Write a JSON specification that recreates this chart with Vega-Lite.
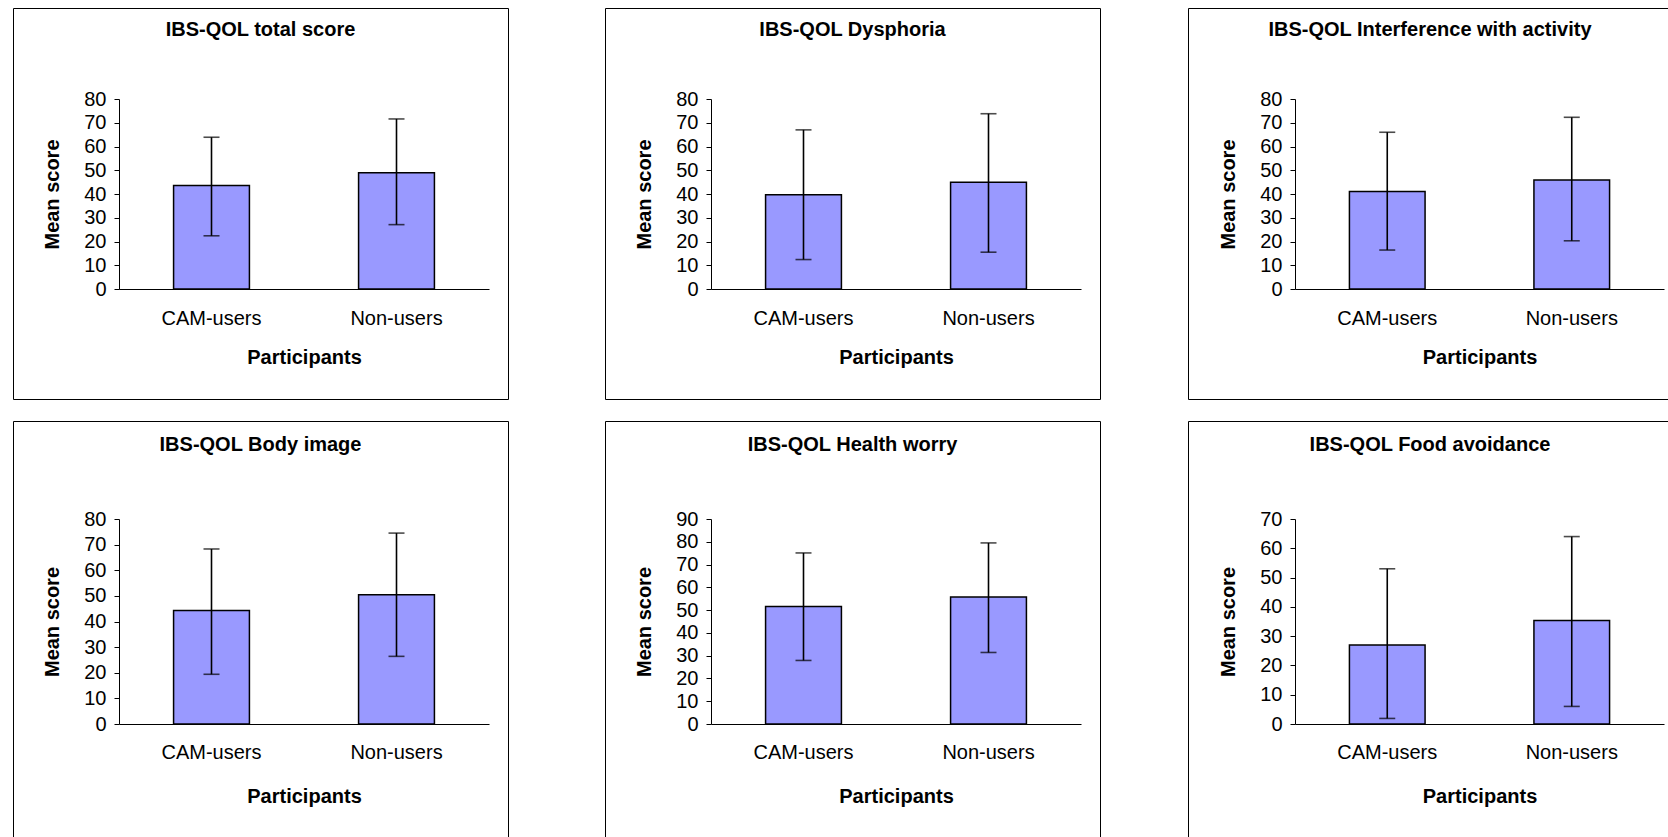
{
  "$schema": "https://vega.github.io/schema/vega-lite/v6.json",
  "padding": {"left": 12, "top": 7, "right": 0, "bottom": 0},
  "background": "white",
  "data": {"values": [
    {"panel": "total", "group": "CAM-users", "mean": 43.6, "lo": 22.4, "hi": 63.9},
    {"panel": "total", "group": "Non-users", "mean": 49.0, "lo": 27.1, "hi": 71.6},
    {"panel": "dysphoria", "group": "CAM-users", "mean": 39.7, "lo": 12.4, "hi": 67.0},
    {"panel": "dysphoria", "group": "Non-users", "mean": 45.0, "lo": 15.5, "hi": 73.8},
    {"panel": "interference", "group": "CAM-users", "mean": 41.1, "lo": 16.4, "hi": 66.0},
    {"panel": "interference", "group": "Non-users", "mean": 45.9, "lo": 20.3, "hi": 72.3},
    {"panel": "body", "group": "CAM-users", "mean": 44.3, "lo": 19.4, "hi": 68.3},
    {"panel": "body", "group": "Non-users", "mean": 50.4, "lo": 26.4, "hi": 74.5},
    {"panel": "health", "group": "CAM-users", "mean": 51.6, "lo": 27.9, "hi": 75.1},
    {"panel": "health", "group": "Non-users", "mean": 55.8, "lo": 31.4, "hi": 79.5},
    {"panel": "food", "group": "CAM-users", "mean": 27.0, "lo": 1.9, "hi": 53.0},
    {"panel": "food", "group": "Non-users", "mean": 35.3, "lo": 6.0, "hi": 64.0}
  ]},
  "config": {
    "view": {"stroke": "black", "strokeWidth": 1},
    "font": "Liberation Sans",
    "title": {"font": "Liberation Sans", "fontSize": 20, "fontWeight": "bold", "color": "black", "anchor": "middle", "baseline": "middle"},
    "axis": {"domainColor": "black", "tickColor": "black", "labelColor": "black", "titleColor": "black", "grid": false, "labelFont": "Liberation Sans", "titleFont": "Liberation Sans", "labelFontSize": 20, "titleFontSize": 20, "titleFontWeight": "bold", "domainWidth": 1, "tickWidth": 1},
    "axisY": {"tickSize": 5, "labelPadding": 8, "titlePadding": 21},
    "axisX": {"ticks": false, "labelAngle": 0}
  },
  "hconcat": [
    {
      "hconcat": [
        {
          "vconcat": [
            {
              "width": 495, "height": 391,
              "title": {"text": "IBS-QOL total score", "offset": -32},
              "transform": [{"filter": "datum.panel === 'total'"}],
              "encoding": {"x": {"field": "group", "type": "nominal", "title": "Participants", "scale": {"type": "band", "domain": ["CAM-users", "Non-users"], "range": [106, 476], "paddingInner": 0.59, "paddingOuter": 0.295}, "axis": {"offset": -110, "labelPadding": 19, "titlePadding": 19}}},
              "layer": [
                {"mark": {"type": "bar", "fill": "#9999FF", "stroke": "black", "strokeWidth": 1.5}, "encoding": {"y": {"field": "mean", "type": "quantitative", "title": "Mean score", "scale": {"domain": [0, 80], "range": [281, 91], "nice": false}, "axis": {"offset": -106, "tickCount": 8}}}},
                {"mark": {"type": "rule", "stroke": "black", "strokeWidth": 1.6}, "encoding": {"y": {"field": "lo", "type": "quantitative", "title": "Mean score"}, "y2": {"field": "hi"}}},
                {"mark": {"type": "tick", "color": "black", "size": 16, "thickness": 1.6}, "encoding": {"y": {"field": "hi", "type": "quantitative", "title": "Mean score"}}},
                {"mark": {"type": "tick", "color": "black", "size": 16, "thickness": 1.6}, "encoding": {"y": {"field": "lo", "type": "quantitative", "title": "Mean score"}}}
              ]
            },
            {
              "width": 495, "height": 417,
              "title": {"text": "IBS-QOL Body image", "offset": -34},
              "transform": [{"filter": "datum.panel === 'body'"}],
              "encoding": {"x": {"field": "group", "type": "nominal", "title": "Participants", "scale": {"type": "band", "domain": ["CAM-users", "Non-users"], "range": [106, 476], "paddingInner": 0.59, "paddingOuter": 0.295}, "axis": {"offset": -114, "labelPadding": 18, "titlePadding": 24}}},
              "layer": [
                {"mark": {"type": "bar", "fill": "#9999FF", "stroke": "black", "strokeWidth": 1.5}, "encoding": {"y": {"field": "mean", "type": "quantitative", "title": "Mean score", "scale": {"domain": [0, 80], "range": [303, 98], "nice": false}, "axis": {"offset": -106, "tickCount": 8}}}},
                {"mark": {"type": "rule", "stroke": "black", "strokeWidth": 1.6}, "encoding": {"y": {"field": "lo", "type": "quantitative", "title": "Mean score"}, "y2": {"field": "hi"}}},
                {"mark": {"type": "tick", "color": "black", "size": 16, "thickness": 1.6}, "encoding": {"y": {"field": "hi", "type": "quantitative", "title": "Mean score"}}},
                {"mark": {"type": "tick", "color": "black", "size": 16, "thickness": 1.6}, "encoding": {"y": {"field": "lo", "type": "quantitative", "title": "Mean score"}}}
              ]
            }
          ],
          "spacing": 20
        },
        {
          "vconcat": [
            {
              "width": 495, "height": 391,
              "title": {"text": "IBS-QOL Dysphoria", "offset": -32},
              "transform": [{"filter": "datum.panel === 'dysphoria'"}],
              "encoding": {"x": {"field": "group", "type": "nominal", "title": "Participants", "scale": {"type": "band", "domain": ["CAM-users", "Non-users"], "range": [106, 476], "paddingInner": 0.59, "paddingOuter": 0.295}, "axis": {"offset": -110, "labelPadding": 19, "titlePadding": 19}}},
              "layer": [
                {"mark": {"type": "bar", "fill": "#9999FF", "stroke": "black", "strokeWidth": 1.5}, "encoding": {"y": {"field": "mean", "type": "quantitative", "title": "Mean score", "scale": {"domain": [0, 80], "range": [281, 91], "nice": false}, "axis": {"offset": -106, "tickCount": 8}}}},
                {"mark": {"type": "rule", "stroke": "black", "strokeWidth": 1.6}, "encoding": {"y": {"field": "lo", "type": "quantitative", "title": "Mean score"}, "y2": {"field": "hi"}}},
                {"mark": {"type": "tick", "color": "black", "size": 16, "thickness": 1.6}, "encoding": {"y": {"field": "hi", "type": "quantitative", "title": "Mean score"}}},
                {"mark": {"type": "tick", "color": "black", "size": 16, "thickness": 1.6}, "encoding": {"y": {"field": "lo", "type": "quantitative", "title": "Mean score"}}}
              ]
            },
            {
              "width": 495, "height": 417,
              "title": {"text": "IBS-QOL Health worry", "offset": -34},
              "transform": [{"filter": "datum.panel === 'health'"}],
              "encoding": {"x": {"field": "group", "type": "nominal", "title": "Participants", "scale": {"type": "band", "domain": ["CAM-users", "Non-users"], "range": [106, 476], "paddingInner": 0.59, "paddingOuter": 0.295}, "axis": {"offset": -114, "labelPadding": 18, "titlePadding": 24}}},
              "layer": [
                {"mark": {"type": "bar", "fill": "#9999FF", "stroke": "black", "strokeWidth": 1.5}, "encoding": {"y": {"field": "mean", "type": "quantitative", "title": "Mean score", "scale": {"domain": [0, 90], "range": [303, 98], "nice": false}, "axis": {"offset": -106, "tickCount": 9}}}},
                {"mark": {"type": "rule", "stroke": "black", "strokeWidth": 1.6}, "encoding": {"y": {"field": "lo", "type": "quantitative", "title": "Mean score"}, "y2": {"field": "hi"}}},
                {"mark": {"type": "tick", "color": "black", "size": 16, "thickness": 1.6}, "encoding": {"y": {"field": "hi", "type": "quantitative", "title": "Mean score"}}},
                {"mark": {"type": "tick", "color": "black", "size": 16, "thickness": 1.6}, "encoding": {"y": {"field": "lo", "type": "quantitative", "title": "Mean score"}}}
              ]
            }
          ],
          "spacing": 20
        }
      ],
      "spacing": 95
    },
    {
      "vconcat": [
        {
          "width": 484, "height": 391,
          "title": {"text": "IBS-QOL Interference with activity", "offset": -32},
          "transform": [{"filter": "datum.panel === 'interference'"}],
          "encoding": {"x": {"field": "group", "type": "nominal", "title": "Participants", "scale": {"type": "band", "domain": ["CAM-users", "Non-users"], "range": [107, 476], "paddingInner": 0.59, "paddingOuter": 0.295}, "axis": {"offset": -110, "labelPadding": 19, "titlePadding": 19}}},
          "layer": [
            {"mark": {"type": "bar", "fill": "#9999FF", "stroke": "black", "strokeWidth": 1.5}, "encoding": {"y": {"field": "mean", "type": "quantitative", "title": "Mean score", "scale": {"domain": [0, 80], "range": [281, 91], "nice": false}, "axis": {"offset": -107, "tickCount": 8}}}},
            {"mark": {"type": "rule", "stroke": "black", "strokeWidth": 1.6}, "encoding": {"y": {"field": "lo", "type": "quantitative", "title": "Mean score"}, "y2": {"field": "hi"}}},
            {"mark": {"type": "tick", "color": "black", "size": 16, "thickness": 1.6}, "encoding": {"y": {"field": "hi", "type": "quantitative", "title": "Mean score"}}},
            {"mark": {"type": "tick", "color": "black", "size": 16, "thickness": 1.6}, "encoding": {"y": {"field": "lo", "type": "quantitative", "title": "Mean score"}}}
          ]
        },
        {
          "width": 484, "height": 417,
          "title": {"text": "IBS-QOL Food avoidance", "offset": -34},
          "transform": [{"filter": "datum.panel === 'food'"}],
          "encoding": {"x": {"field": "group", "type": "nominal", "title": "Participants", "scale": {"type": "band", "domain": ["CAM-users", "Non-users"], "range": [107, 476], "paddingInner": 0.59, "paddingOuter": 0.295}, "axis": {"offset": -114, "labelPadding": 18, "titlePadding": 24}}},
          "layer": [
            {"mark": {"type": "bar", "fill": "#9999FF", "stroke": "black", "strokeWidth": 1.5}, "encoding": {"y": {"field": "mean", "type": "quantitative", "title": "Mean score", "scale": {"domain": [0, 70], "range": [303, 98], "nice": false}, "axis": {"offset": -107, "tickCount": 7}}}},
            {"mark": {"type": "rule", "stroke": "black", "strokeWidth": 1.6}, "encoding": {"y": {"field": "lo", "type": "quantitative", "title": "Mean score"}, "y2": {"field": "hi"}}},
            {"mark": {"type": "tick", "color": "black", "size": 16, "thickness": 1.6}, "encoding": {"y": {"field": "hi", "type": "quantitative", "title": "Mean score"}}},
            {"mark": {"type": "tick", "color": "black", "size": 16, "thickness": 1.6}, "encoding": {"y": {"field": "lo", "type": "quantitative", "title": "Mean score"}}}
          ]
        }
      ],
      "spacing": 20
    }
  ],
  "spacing": 86
}
